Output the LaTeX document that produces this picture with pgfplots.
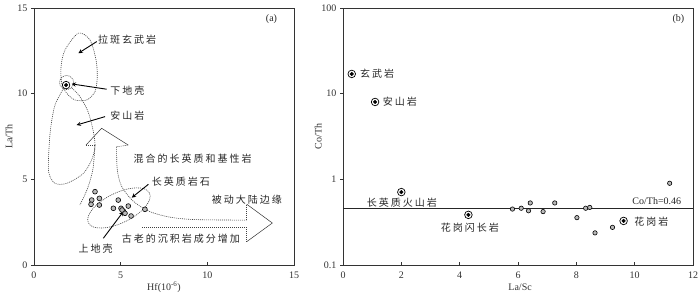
\documentclass[border=0pt]{standalone}
\usepackage{fontspec}
\setmainfont{Liberation Serif}
\newfontfamily\cjk[LetterSpace=20]{Noto Sans CJK SC}
\usepackage{pgfplots}
\pgfplotsset{compat=1.18}
\begin{document}
\begin{tikzpicture}[x=1pt,y=1pt]
\tikzset{
  dotl/.style={dash pattern=on 1pt off 1pt, line width=0.6pt, black!75},
  lab/.style={font=\cjk\fontsize{10}{12}\selectfont, black!85, inner sep=0pt, anchor=west},
  arr/.style={-stealth, line width=0.9pt, black}
}
\pgfplotsset{
  common/.style={scale only axis, height=257pt, anchor=south west,
    axis line style={line width=0.6pt, black!80},
    tick style={black!80, line width=0.5pt}, tick align=outside, major tick length=3pt,
    x tick style={yshift=3pt},
    xtick pos=bottom, ytick pos=left,
    tick label style={font=\fontsize{10}{12}\selectfont, black!80},
    /pgf/number format/assume math mode=true,
    label style={font=\fontsize{10}{12}\selectfont, black!80}},
  gpt/.style={only marks, mark=*, mark size=2.4pt, mark options={fill=gray!55, draw=black, line width=0.6pt}},
  bo/.style={only marks, mark=o, mark size=3.8pt, mark options={line width=0.7pt, draw=black}},
  bi/.style={only marks, mark=*, mark size=1.8pt, mark options={fill=black}}
}
% ---------------- (a)
\begin{axis}[common, at={(34pt,32pt)}, width=260pt,
  xmin=0, xmax=15, ymin=0, ymax=15, xtick={0,5,10,15}, ytick={0,5,10,15},
  xlabel={Hf(10\textsuperscript{-6})}, ylabel={La/Th},
  xlabel style={at={(axis description cs:0.5,-0.0856)}, anchor=center},
  ylabel style={at={(axis description cs:-0.096,0.5)}, anchor=center}]
% tholeiite loop
\addplot[dotl, smooth cycle] coordinates {(2.56,13.53) (3.23,13.13) (3.58,11.97) (3.65,10.99) (3.52,10.12) (3.04,9.63) (2.37,9.63) (1.89,10.02) (1.60,10.6) (1.56,11.58) (1.79,12.55)};
% andesite field
\addplot[dotl, smooth] coordinates {(1.7,10.3) (1.2,9.3) (0.95,7.9) (0.85,6.5) (0.85,5.4) (1.2,4.77) (1.9,4.77) (2.85,5.35) (3.35,6.2) (3.52,7.0) (3.4,7.9) (3.1,9.0) (2.6,9.9) (2.15,10.35)};
% left stem of up arrow
\addplot[dotl, smooth] coordinates {(3.52,7.0) (3.4,5.6) (3.1,4.5) (2.65,3.5)};
% up arrow head
\addplot[line width=0.5pt, black!80] coordinates {(3.0,7.0) (3.9,7.98) (5.44,7.0)};
\addplot[dotl] coordinates {(3.0,7.0) (3.52,7.0)};
\addplot[dotl] coordinates {(4.77,6.9) (5.44,7.0)};
% right stem curve
\addplot[dotl, smooth] coordinates {(4.77,6.9) (4.8,5.6) (5.05,4.6) (5.7,3.75) (6.6,3.15) (7.8,2.8) (9.3,2.65) (12.27,2.62)};
% right arrow
\addplot[dotl] coordinates {(12.27,2.62) (12.27,3.55)};
\addplot[line width=0.5pt, black!80] coordinates {(12.27,3.55) (13.75,2.45) (12.27,1.36)};
\addplot[dotl] coordinates {(12.27,1.36) (12.27,2.2) (6.2,2.2)};
% circle around lower crust
\draw[dotl] (axis cs:1.88,10.65) circle [radius=7pt];
% felsic ellipse
\draw[dotl, rotate around={26:(axis cs:4.9,3.33)}] (axis cs:4.9,3.33) ellipse [x radius=34pt, y radius=15pt];
% samples
\addplot[gpt] coordinates {(3.52,4.28) (3.77,3.89) (3.33,3.79) (3.29,3.54) (3.77,3.50) (4.86,3.79) (4.58,3.31) (5.02,3.31) (5.44,3.44) (5.15,3.15) (5.25,3.02) (5.60,2.86) (6.40,3.25) (5.08,3.21)};
\addplot[bo] coordinates {(1.85,10.5)};
\addplot[bi] coordinates {(1.85,10.5)};
% labels and arrows
\draw[arr] (axis cs:3.62,13.04) -- (axis cs:2.56,12.36);
\draw[arr] (axis cs:4.19,10.26) -- (axis cs:2.17,10.57);
\draw[arr] (axis cs:4.1,8.66) -- (axis cs:2.46,8.17);
\draw[arr] (axis cs:6.6,4.71) -- (axis cs:5.64,3.93);
\draw[arr] (axis cs:4.0,1.56) -- (axis cs:5.15,3.11);
\node[lab] at (axis cs:3.69,13.13) {拉斑玄武岩};
\node[lab] at (axis cs:4.39,10.18) {下地壳};
\node[lab] at (axis cs:4.39,8.72) {安山岩};
\node[lab] at (axis cs:5.73,6.23) {混合的长英质和基性岩};
\node[lab] at (axis cs:6.79,4.86) {长英质岩石};
\node[lab] at (axis cs:10.25,3.83) {被动大陆边缘};
\node[lab] at (axis cs:2.56,0.97) {上地壳};
\node[lab] at (axis cs:5.06,1.56) {古老的沉积岩成分增加};
\node[font=\fontsize{10}{12}\selectfont, black!85] at (axis cs:13.7,14.35) {(a)};
\end{axis}
% ---------------- (b)
\begin{axis}[common, at={(343pt,32pt)}, width=350pt,
  xmin=0, xmax=12, ymode=log, ymin=0.1, ymax=100,
  xtick={0,2,4,6,8,10,12}, ytick={0.1,1,10,100}, yticklabels={0.1,1,10,100},
  yminorticks=false,
  xlabel={La/Sc}, ylabel={Co/Th},
  xlabel style={at={(axis description cs:0.506,-0.0856)}, anchor=center},
  ylabel style={at={(axis description cs:-0.071,0.5)}, anchor=center}]
\addplot[line width=0.9pt, black!85] coordinates {(0,0.46) (12,0.46)};
\addplot[gpt, mark size=2.2pt] coordinates {(5.81,0.45) (6.11,0.46) (6.36,0.43) (6.42,0.53) (6.86,0.42) (7.26,0.53) (8.02,0.357) (8.32,0.46) (8.46,0.47) (8.64,0.237) (9.24,0.275) (11.2,0.90)};
\addplot[bo] coordinates {(0.3,17) (1.1,8.0) (2.0,0.71) (4.3,0.385) (9.62,0.327)};
\addplot[bi] coordinates {(0.3,17) (1.1,8.0) (2.0,0.71) (4.3,0.385) (9.62,0.327)};
\node[lab] at (axis cs:0.58,17) {玄武岩};
\node[lab] at (axis cs:1.36,8.0) {安山岩};
\node[lab] at (axis cs:0.81,0.54) {长英质火山岩};
\node[lab] at (axis cs:3.35,0.269) {花岗闪长岩};
\node[lab] at (axis cs:9.98,0.32) {花岗岩};
\node[font=\fontsize{10}{12}\selectfont, black!85, anchor=east, inner sep=0pt] at (axis cs:11.6,0.555) {Co/Th=0.46};
\node[font=\fontsize{10}{12}\selectfont, black!85] at (axis cs:11.5,74) {(b)};
\end{axis}
\pgfresetboundingbox
\path[use as bounding box] (0pt,0pt) rectangle (700pt,297pt);
\end{tikzpicture}
\end{document}
